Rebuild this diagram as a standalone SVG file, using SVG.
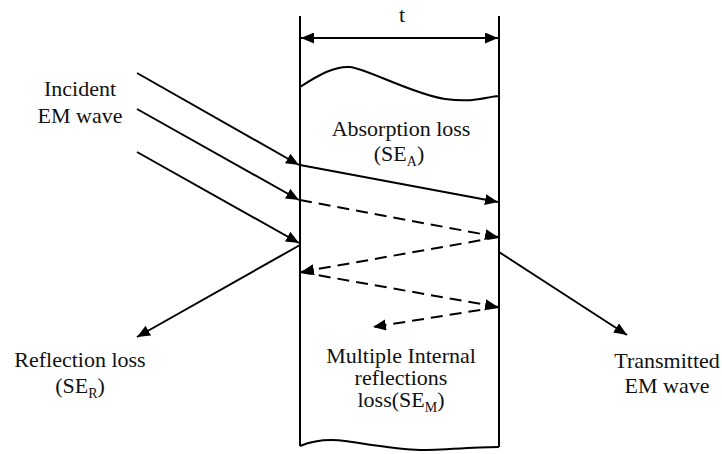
<svg xmlns="http://www.w3.org/2000/svg" width="722" height="454" viewBox="0 0 722 454">
<defs>
<marker id="ah" markerUnits="userSpaceOnUse" markerWidth="14" markerHeight="12" refX="13" refY="5.5" orient="auto">
<path d="M0,0 L13,5.5 L0,11 z" fill="#000"/>
</marker>
<marker id="ahs" markerUnits="userSpaceOnUse" markerWidth="14" markerHeight="12" refX="0" refY="5.5" orient="auto">
<path d="M13,0 L0,5.5 L13,11 z" fill="#000"/>
</marker>
<style>
.l{stroke:#000;stroke-width:2;fill:none}
.d{stroke:#000;stroke-width:2;fill:none;stroke-dasharray:12 7}
.t{font-family:"Liberation Serif","Times New Roman",serif;font-size:22px;fill:#111;text-anchor:middle}
.s{font-size:14px}
</style>
</defs>
<g id="slab">
<path class="l" d="M300,16 L300,446"/>
<path class="l" d="M499,16 L499,447"/>
<path class="l" d="M300,87 C320,74 335,66 350,67 S415,95 445,99 S485,97 499,96"/>
<path class="l" d="M300,446 C315,440 330,439 345,441 S400,450 420,450 S480,447 499,447"/>
</g>
<g id="thickness">
<path class="l" d="M301,38 L498,38" marker-start="url(#ahs)" marker-end="url(#ah)"/>
<text class="t" x="402" y="22">t</text>
</g>
<g id="incident">
<text class="t" x="80" y="96">Incident</text>
<text class="t" x="80" y="123">EM wave</text>
</g>
<g id="absorption">
<text class="t" x="401" y="136">Absorption loss</text>
<text class="t" x="399" y="161">(SE<tspan class="s" dy="5">A</tspan><tspan dy="-5">)</tspan></text>
</g>
<g id="multiple">
<text class="t" x="401" y="363">Multiple Internal</text>
<text class="t" x="401" y="385">reflections</text>
<text class="t" x="401" y="407">loss(SE<tspan class="s" dy="5">M</tspan><tspan dy="-5">)</tspan></text>
</g>
<g id="reflection">
<text class="t" x="80" y="367">Reflection loss</text>
<text class="t" x="80" y="393">(SE<tspan class="s" dy="5">R</tspan><tspan dy="-5">)</tspan></text>
</g>
<g id="transmitted">
<text class="t" x="667" y="368">Transmitted</text>
<text class="t" x="667" y="393">EM wave</text>
</g>
<g id="connectors">
<path class="l" d="M137,73 L299,165" marker-end="url(#ah)"/>
<path class="l" d="M137,109 L299,200" marker-end="url(#ah)"/>
<path class="l" d="M137,152 L299,243" marker-end="url(#ah)"/>
<path class="l" d="M300,245 L137,337" marker-end="url(#ah)"/>
<path class="l" d="M300,165 L498,202" marker-end="url(#ah)"/>
<path class="d" d="M300,200 L498,237" marker-end="url(#ah)"/>
<path class="d" d="M499,237 L301,272" marker-end="url(#ah)"/>
<path class="d" d="M300,272 L498,307" marker-end="url(#ah)"/>
<path class="d" d="M499,307 L373,327" marker-end="url(#ah)"/>
<path class="l" d="M499,252 L627,335" marker-end="url(#ah)"/>
</g>
</svg>
